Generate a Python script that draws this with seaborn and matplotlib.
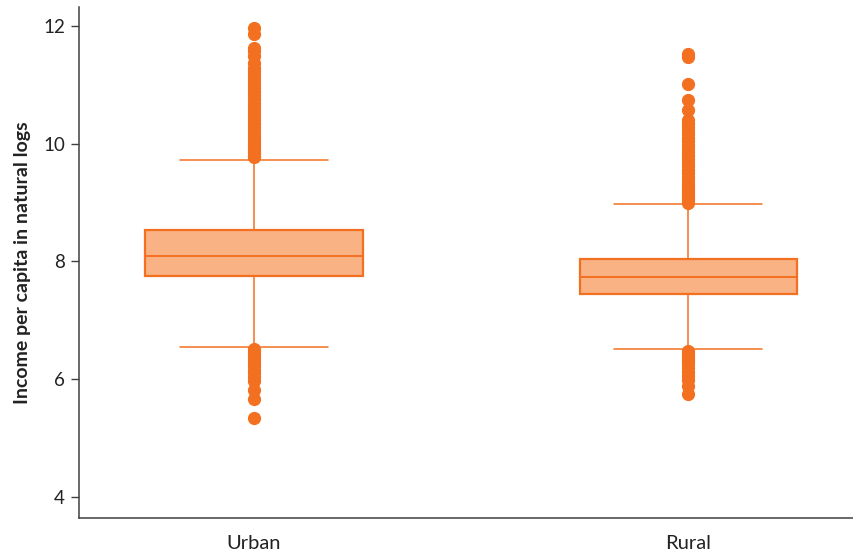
import numpy as np
import pandas as pd
import matplotlib
matplotlib.use("Agg")
import matplotlib.pyplot as plt
import seaborn as sns
from matplotlib.ticker import FixedLocator

# ---- data ----
categories = ["Urban", "Rural"]

urban_quartiles = [7.745, 8.09, 8.532]
urban_whiskers = [6.545, 9.73]
urban_high_outliers = [9.77, 9.80, 9.84, 9.88, 9.92, 9.97, 10.02, 10.07, 10.12, 10.17,
                       10.22, 10.28, 10.34, 10.40, 10.46, 10.52, 10.58, 10.64, 10.70,
                       10.76, 10.82, 10.88, 10.94, 11.00, 11.06, 11.12, 11.18, 11.24,
                       11.29, 11.38, 11.49, 11.58, 11.63, 11.87, 11.96]
urban_low_outliers = [6.52, 6.47, 6.42, 6.37, 6.32, 6.27, 6.22, 6.16, 6.10, 6.04,
                      5.97, 5.82, 5.665, 5.34]

rural_quartiles = [7.439, 7.733, 8.046]
rural_whiskers = [6.505, 8.97]
rural_high_outliers = [9.00, 9.04, 9.08, 9.12, 9.17, 9.22, 9.27, 9.32, 9.38, 9.44,
                       9.50, 9.56, 9.62, 9.68, 9.74, 9.80, 9.86, 9.92, 9.98, 10.04,
                       10.10, 10.16, 10.22, 10.28, 10.34, 10.41, 10.57, 10.74, 11.01,
                       11.47, 11.52]
rural_low_outliers = [6.48, 6.44, 6.40, 6.35, 6.30, 6.25, 6.19, 6.12, 6.05, 5.99,
                      5.89, 5.74]

y_ticks = [4, 6, 8, 10, 12]
y_label = "Income per capita in natural logs"

# ---- colours ----
ORANGE = "#F37021"
FILL = "#F8B283"
AXIS = "#404040"


def build_sample(low, whiskers, quartiles, high, reps=200):
    return np.concatenate([low, [whiskers[0]], np.repeat(quartiles, reps),
                           [whiskers[1]], high])


urban = build_sample(urban_low_outliers, urban_whiskers, urban_quartiles, urban_high_outliers)
rural = build_sample(rural_low_outliers, rural_whiskers, rural_quartiles, rural_high_outliers)
df = pd.DataFrame({
    "area": ["Urban"] * len(urban) + ["Rural"] * len(rural),
    "value": np.concatenate([urban, rural]),
})

sns.set_theme(style="white")
plt.rcParams["font.family"] = ["Lato", "DejaVu Sans"]

fig = plt.figure(figsize=(8.54, 5.55), dpi=100)
ax = fig.add_axes([0.0925, 0.0667, 0.9075, 0.9203])

sns.boxplot(
    data=df, x="area", y="value", order=categories, ax=ax,
    width=0.5, whis=1.55, color=FILL, saturation=1, linecolor=ORANGE,
    linewidth=1.2, fliersize=8.5,
    boxprops=dict(linewidth=1.6, edgecolor=ORANGE, facecolor=FILL),
    medianprops=dict(linewidth=1.4, color=ORANGE),
    whiskerprops=dict(linewidth=1.1, color=ORANGE),
    capprops=dict(linewidth=1.1, color=ORANGE),
    flierprops=dict(marker="o", markerfacecolor=ORANGE, markeredgecolor=ORANGE),
    capwidths=0.34,
)

ax.set_xlim(-0.403, 1.382)
ax.set_ylim(3.64, 12.32)
ax.set_yticks(y_ticks)
ax.set_yticklabels([str(t) for t in y_ticks], fontsize=13.5, color="#222222")
ax.set_xticks([0, 1])
ax.set_xticklabels(categories, fontsize=14.5, color="#222222")
ax.xaxis.set_minor_locator(FixedLocator([0.5]))
ax.tick_params(axis="x", which="major", length=0, pad=12)
ax.tick_params(axis="x", which="minor", length=7, width=1, color=AXIS, direction="out")
ax.tick_params(axis="y", which="major", length=6, width=1, color=AXIS, left=True, pad=4)
ax.set_xlabel("")
ax.set_ylabel(y_label, fontsize=14, fontweight="bold", color="#222222", labelpad=9)

for s in ["top", "right"]:
    ax.spines[s].set_visible(False)
for s in ["left", "bottom"]:
    ax.spines[s].set_color(AXIS)
    ax.spines[s].set_linewidth(1.1)

fig.savefig("out.png", dpi=100)
